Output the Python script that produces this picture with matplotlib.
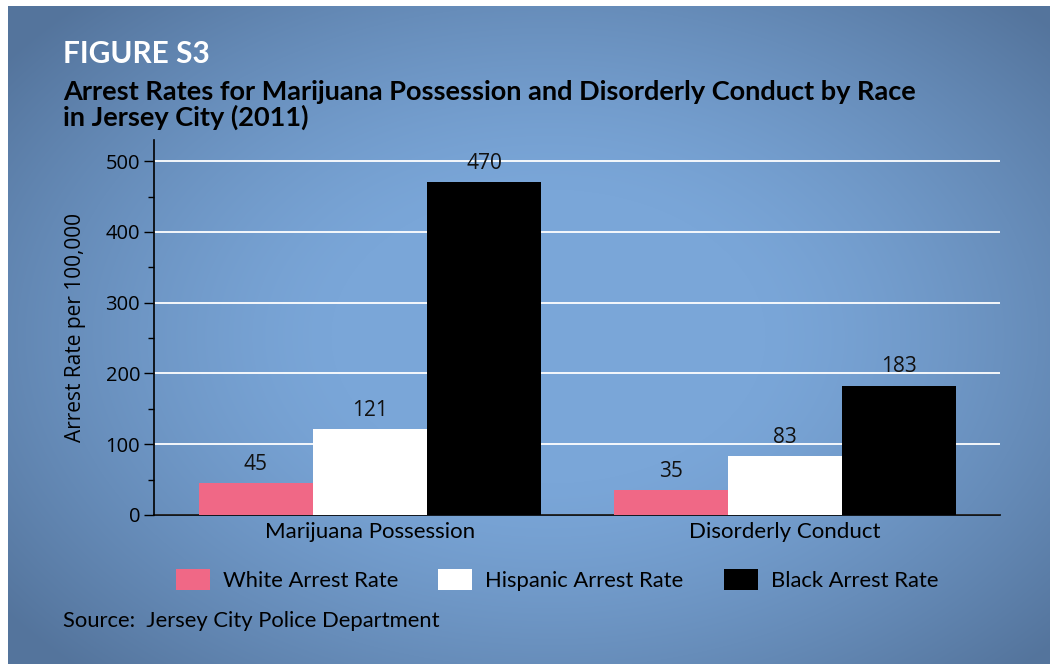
import numpy as np
import matplotlib
matplotlib.use("Agg")
from matplotlib import pyplot as plt
from matplotlib.patches import Patch

# Jersey City arrest rates per 100,000 residents (2011)
categories = ["Marijuana Possession", "Disorderly Conduct"]
series_names = ["White Arrest Rate", "Hispanic Arrest Rate", "Black Arrest Rate"]
white_rate = [45, 35]
hispanic_rate = [121, 83]
black_rate = [470, 183]
yticks = [0, 100, 200, 300, 400, 500]

colors = ["#f06886", "#ffffff", "#000000"]
din = "Lato"
myriad = "Open Sans"

fig = plt.figure(figsize=(10.5, 6.64), dpi=100)
fig.patch.set_facecolor("white")

# blue panel with a soft radial gradient
bg = fig.add_axes([8 / 1050, 0, 1 - 8 / 1050, 1 - 6 / 664], zorder=-10)
h, w = 658, 1042
yy, xx = np.mgrid[0:h, 0:w]
r = np.sqrt(((xx - 540) / 620.0) ** 2 + ((yy - 330) / 420.0) ** 2)
t = np.clip((r - 0.35) / 0.75, 0, 1) ** 1.3
c_in = np.array([122, 166, 216]) / 255.0
c_out = np.array([84, 116, 156]) / 255.0
img = c_in[None, None, :] * (1 - t[..., None]) + c_out[None, None, :] * t[..., None]
bg.imshow(img, aspect="auto", interpolation="bilinear")
bg.axis("off")

ax = fig.add_axes([154 / 1050, 1 - 515 / 664, 846 / 1050, 375 / 664])
ax.patch.set_alpha(0)

x = np.arange(len(categories))
bw = 0.275
for i, vals in enumerate([white_rate, hispanic_rate, black_rate]):
    pos = x + (i - 1) * bw
    ax.bar(pos, vals, bw, color=colors[i], zorder=3, linewidth=0)
    for p, v in zip(pos, vals):
        ax.annotate(str(v), (p, v), xytext=(0, 6), textcoords="offset points",
                    ha="center", va="bottom", fontsize=15, family=myriad, color="#111111")

ax.set_xlim(-0.52, 1.518)
ax.set_ylim(0, 530)
ax.set_yticks(yticks)
ax.set_yticks(np.arange(50, 500, 100), minor=True)
ax.yaxis.grid(True, color="white", linewidth=1.3, zorder=0)
ax.set_axisbelow(True)
ax.set_xticks(x)
ax.set_xticklabels(categories, fontsize=16, family=din)
ax.tick_params(axis="x", length=0, pad=5)
ax.tick_params(axis="y", which="major", length=7, width=1, labelsize=14.5, pad=3)
ax.tick_params(axis="y", which="minor", length=4, width=1)
for lab in ax.get_yticklabels():
    lab.set_family(myriad)
for s in ["top", "right"]:
    ax.spines[s].set_visible(False)
ax.spines["left"].set_linewidth(1.2)
ax.spines["bottom"].set_linewidth(1.2)
ax.set_ylabel("Arrest Rate per 100,000", fontsize=15, family=myriad, labelpad=14)

fig.text(63 / 1050, 1 - 63 / 664, "FIGURE S3", color="white", fontsize=21.5,
         fontweight="bold", family=din, va="baseline")
fig.text(63 / 1050, 1 - 100 / 664,
         "Arrest Rates for Marijuana Possession and Disorderly Conduct by Race",
         color="black", fontsize=19.5, fontweight="bold", family=din, va="baseline")
fig.text(63 / 1050, 1 - 126 / 664, "in Jersey City (2011)",
         color="black", fontsize=19.5, fontweight="bold", family=din, va="baseline")

handles = [Patch(facecolor=c, edgecolor="none") for c in colors]
fig.legend(handles, series_names, loc="center", bbox_to_anchor=(557 / 1050, 1 - 580 / 664),
           ncol=3, frameon=False, prop={"family": din, "size": 15.8},
           handlelength=1.55, handleheight=1.05, handletextpad=0.6, columnspacing=1.83)

fig.text(63 / 1050, 1 - 627 / 664, "Source:  Jersey City Police Department",
         fontsize=15.8, family=din, va="baseline")

fig.savefig("out.png", dpi=100)
